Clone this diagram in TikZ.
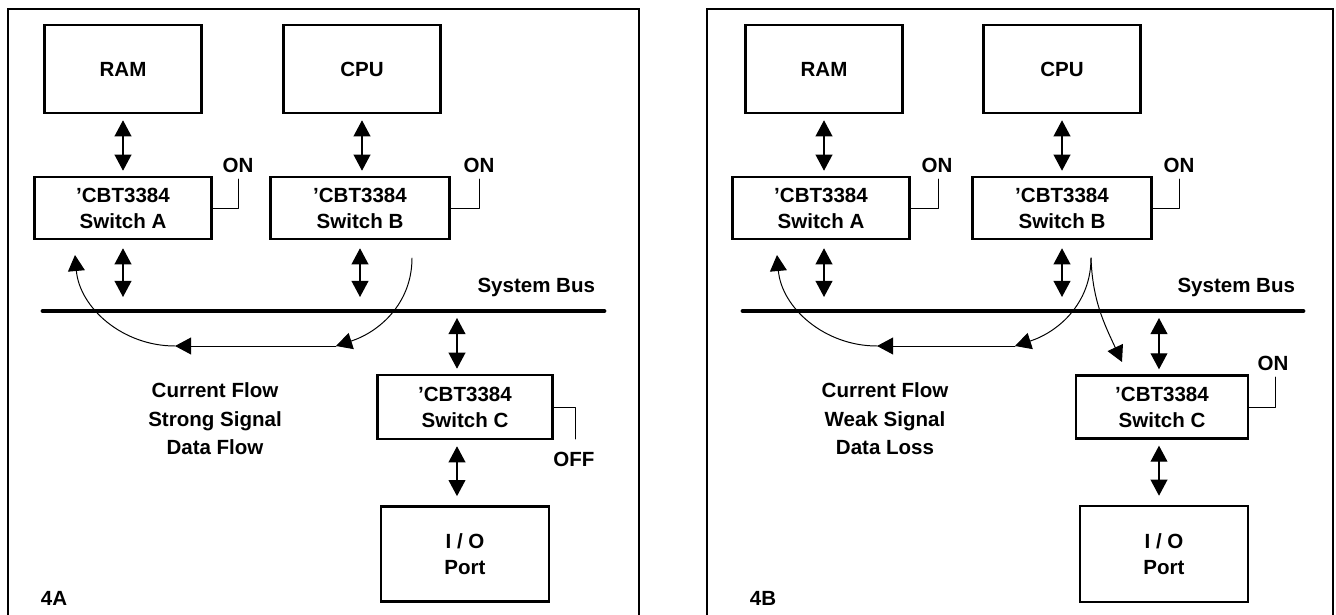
\documentclass[tikz,border=0pt]{standalone}
\usepackage{fontspec}
\setmainfont{Liberation Sans}
\usetikzlibrary{arrows.meta}

\begin{document}
\begin{tikzpicture}[x=.025cm,y=.025cm,
  font=\bfseries\fontsize{14.6}{18.4}\selectfont,
  line cap=round,line join=round,>={Triangle[length=.4cm,width=.42cm]},
  panel/.style={line width=2.1pt,line join=miter},
  box/.style={draw,line width=1.8pt,line join=miter,inner sep=0pt,align=center},
  dbl/.style={<->,line width=.85pt},
  flow/.style={->,line width=.7pt},
  onwire/.style={line width=.7pt},
  bus/.style={line width=3.4pt},
  flowtext/.style={align=center,font=\bfseries\fontsize{14.6}{20.3}\selectfont}]

  \useasboundingbox (0,0) rectangle (1336,614);

  % 4A: switch C off
  \begin{scope}
    \draw[panel] (8,-5) |- (639,605) -- (639,-5);
    \node[box,minimum width=3.93cm,minimum height=2.2cm] (ramL) at (123,545) {RAM};
    \node[box,minimum width=3.93cm,minimum height=2.2cm] (cpuL) at (362,545) {CPU};
    \node[box,minimum width=4.43cm,minimum height=1.55cm] (swaL) at (123,406)
      {’CBT3384\\Switch A};
    \node[box,minimum width=4.48cm,minimum height=1.55cm] (swbL) at (360,406)
      {’CBT3384\\Switch B};
    \node[box,minimum width=4.38cm,minimum height=1.6cm] (swcL) at (465,207)
      {’CBT3384\\Switch C};
    \node[box,minimum width=4.2cm,minimum height=2.38cm] (ioL) at (465,60)
      {I / O\\Port};

    \coordinate (busL1) at (43,303);
    \coordinate (busL2) at (604,303);
    \coordinate (busCL) at (457,303);
    \draw[bus] (busL1) -- (busL2);
    \node[anchor=east] (sbusL) at (600,327) {System Bus};

    \draw[dbl,shorten <=.15cm,shorten >=.125cm] (ramL.south) -- (swaL.north);
    \draw[dbl,shorten <=.15cm,shorten >=.125cm] (cpuL.south) -- (cpuL.south |- swbL.north);
    \draw[dbl,shorten <=.2cm,shorten >=.35cm] (swaL.south) -- (swaL.south |- busL1);
    \draw[dbl,shorten <=.2cm,shorten >=.35cm] (swbL.south) -- (swbL.south |- busL1);
    \draw[dbl,shorten <=.175cm,shorten >=.125cm] (busCL) -- (busCL |- swcL.north);
    \draw[dbl,shorten <=.15cm,shorten >=.225cm] (busCL |- swcL.south) -- (busCL |- ioL.north);

    \node (onaL) at (238,449) {ON};
    \coordinate (onaLw) at (238,435);
    \draw[onwire] (swaL.east) -| (onaLw);
    \node (onbL) at (479,449) {ON};
    \coordinate (onbLw) at (479,435);
    \draw[onwire] (swbL.east) -| (onbLw);
    \node (offL) at (574,155) {OFF};
    \coordinate (offLw) at (575,175);
    \draw[onwire] (swcL.east) -| (offLw);

    % current path
    \coordinate (cfL1) at (412,356);
    \coordinate (cfL2) at (336,268);
    \coordinate (cfL3) at (175,268);
    \coordinate (cfL4) at (75,359);
    \draw[flow] (cfL1) to[out=-90,in=18] (cfL2);
    \draw[flow] (cfL2) -- (cfL3);
    \draw[flow] (cfL3) to[out=180,in=-85] (cfL4);

    \node[flowtext] (txtL) at (215,195) {Current Flow\\Strong Signal\\Data Flow};
    \node[anchor=west] (figL) at (36,16) {4A};
  \end{scope}

  % 4B: switch C on
  \begin{scope}[shift={(700,0)}]
    \draw[panel] (7,-5) |- (633,605) -- (633,-5);
    \node[box,minimum width=3.93cm,minimum height=2.2cm] (ramR) at (124,545) {RAM};
    \node[box,minimum width=3.93cm,minimum height=2.2cm] (cpuR) at (362,545) {CPU};
    \node[box,minimum width=4.43cm,minimum height=1.55cm] (swaR) at (121,406)
      {’CBT3384\\Switch A};
    \node[box,minimum width=4.48cm,minimum height=1.55cm] (swbR) at (362,406)
      {’CBT3384\\Switch B};
    \node[box,minimum width=4.3cm,minimum height=1.57cm] (swcR) at (462,207)
      {’CBT3384\\Switch C};
    \node[box,minimum width=4.2cm,minimum height=2.4cm] (ioR) at (464,60)
      {I / O\\Port};

    \coordinate (busR1) at (43,303);
    \coordinate (busR2) at (603,303);
    \coordinate (busCR) at (459,303);
    \draw[bus] (busR1) -- (busR2);
    \node[anchor=east] (sbusR) at (600,327) {System Bus};

    \draw[dbl,shorten <=.15cm,shorten >=.125cm] (ramR.south) -- (ramR.south |- swaR.north);
    \draw[dbl,shorten <=.15cm,shorten >=.125cm] (cpuR.south) -- (swbR.north);
    \draw[dbl,shorten <=.2cm,shorten >=.35cm] (ramR.south |- swaR.south) -- (ramR.south |- busR1);
    \draw[dbl,shorten <=.2cm,shorten >=.35cm] (swbR.south) -- (swbR.south |- busR1);
    \draw[dbl,shorten <=.175cm,shorten >=.125cm] (busCR) -- (busCR |- swcR.north);
    \draw[dbl,shorten <=.15cm,shorten >=.225cm] (busCR |- swcR.south) -- (busCR |- ioR.north);

    \node (onaR) at (237,449) {ON};
    \coordinate (onaRw) at (238,435);
    \draw[onwire] (swaR.east) -| (onaRw);
    \node (onbR) at (479,449) {ON};
    \coordinate (onbRw) at (479,435);
    \draw[onwire] (swbR.east) -| (onbRw);
    \node (oncR) at (573,251) {ON};
    \coordinate (oncRw) at (575,237);
    \draw[onwire] (swcR.east) -| (oncRw);

    % current path, split towards switch C
    \coordinate (cfR1) at (391,356);
    \coordinate (cfR2) at (315,268);
    \coordinate (cfR3) at (177,268);
    \coordinate (cfR4) at (77,359);
    \coordinate (cfR5) at (422,252);
    \draw[flow] (cfR1) to[out=-90,in=18] (cfR2);
    \draw[flow] (cfR2) -- (cfR3);
    \draw[flow] (cfR3) to[out=180,in=-85] (cfR4);
    \draw[flow] (cfR1) to[out=-88,in=115] (cfR5);

    \node[flowtext] (txtR) at (185,195) {Current Flow\\Weak Signal\\Data Loss};
    \node[anchor=west] (figR) at (45,16) {4B};
  \end{scope}
\end{tikzpicture}
\end{document}
